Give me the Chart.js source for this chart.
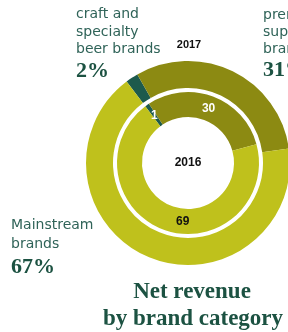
<!DOCTYPE html>
<html>
<head>
<meta charset="utf-8">
<script src="https://cdn.jsdelivr.net/npm/chart.js@4/dist/chart.umd.min.js"></script>
<style>
  html, body { margin: 0; padding: 0; background: #fff; overflow: hidden; }
  #wrap { position: absolute; left: 0; top: 0; width: 300px; height: 332px; }
</style>
</head>
<body>
<div id="wrap"><canvas id="myChart" width="300" height="332"></canvas></div>
<script>
const categories = ['craft and specialty beer brands', 'premium and super premium brands', 'Mainstream brands'];
const years = ['2017', '2016'];
const share2017 = [2, 31, 67];
const share2016 = [1, 30, 69];

const colors = ['#1d5a4c', '#8c8a12', '#bfc11c'];
const textColor = '#2f6358';
const titleColor = '#1c5242';

// wrapped lines for the outside labels
const labelLines = [
  ['craft and', 'specialty', 'beer brands'],
  ['premium and', 'super premium', 'brands'],
  ['Mainstream', 'brands']
];

const textPlugin = {
  id: 'textPlugin',
  afterDraw: function (chart) {
    const ctx = chart.ctx;
    const outer = chart.getDatasetMeta(0);
    const inner = chart.getDatasetMeta(2);
    const cx = outer.data[0].x;
    const cy = outer.data[0].y;

    ctx.save();
    ctx.textAlign = 'center';
    ctx.textBaseline = 'middle';

    // inner ring values
    const innerColors = ['#ffffff', '#ffffff', '#111111'];
    ctx.font = 'bold 12px "Liberation Sans"';
    inner.data.forEach(function (arc, i) {
      let p = arc.tooltipPosition();
      if (i === 2) {
        // big slice: label sits near the bottom of the ring
        const r = (arc.innerRadius + arc.outerRadius) / 2;
        const a = Math.PI / 2 + 0.09;
        p = {x: arc.x + Math.cos(a) * r, y: arc.y + Math.sin(a) * r};
      }
      ctx.fillStyle = innerColors[i];
      ctx.fillText(String(share2016[i]), p.x, p.y);
    });

    // year labels
    ctx.fillStyle = '#111';
    ctx.font = 'bold 12px "Liberation Sans"';
    ctx.fillText(years[1], cx, cy);
    ctx.font = 'bold 11px "Liberation Sans"';
    ctx.fillText(years[0], cx + 1, outer.data[0].y - outer.data[0].outerRadius - 16);

    // outside labels
    const spots = [
      {x: 76, y: 18, step: 17.5},
      {x: 263, y: 19, step: 17},
      {x: 11, y: 229, step: 19}
    ];
    ctx.textAlign = 'left';
    ctx.textBaseline = 'alphabetic';
    spots.forEach(function (s, i) {
      ctx.fillStyle = textColor;
      ctx.font = '14px "DejaVu Sans"';
      labelLines[i].forEach(function (line, j) {
        ctx.fillText(line, s.x, s.y + j * s.step);
      });
      ctx.fillStyle = titleColor;
      ctx.font = 'bold 22px "Liberation Serif"';
      ctx.fillText(share2017[i] + '%', s.x, s.y + labelLines[i].length * s.step + 6);
    });

    // title
    ctx.textAlign = 'center';
    ctx.fillStyle = titleColor;
    ctx.font = 'bold 23px "Liberation Serif"';
    ctx.fillText('Net revenue', 192, 298);
    ctx.fillText('by brand category', 193, 325);
    ctx.restore();
  }
};

const chart = new Chart(document.getElementById('myChart').getContext('2d'), {
  type: 'doughnut',
  data: {
    labels: categories,
    datasets: [
      {label: years[0], data: share2017, backgroundColor: colors, borderWidth: 0, weight: 27},
      {label: 'gap', data: [1], backgroundColor: 'rgba(0,0,0,0)', borderWidth: 0, weight: 4},
      {label: years[1], data: share2016, backgroundColor: colors, borderWidth: 0, weight: 25}
    ]
  },
  options: {
    responsive: false,
    animation: false,
    events: [],
    rotation: -37,
    cutout: 46,
    layout: {padding: {left: 86, right: 10, top: 61, bottom: 67}},
    plugins: {legend: {display: false}, tooltip: {enabled: false}}
  },
  plugins: [textPlugin]
});
</script>
</body>
</html>
